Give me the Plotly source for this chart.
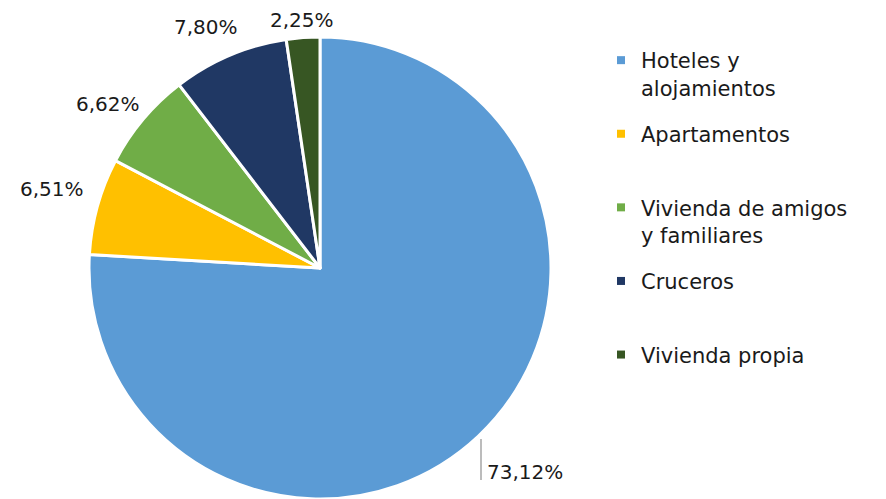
import plotly.graph_objects as go

categories = ["Hoteles y<br>alojamientos", "Apartamentos", "Vivienda de amigos<br>y familiares",
              "Cruceros", "Vivienda propia"]
values = [73.12, 6.51, 6.62, 7.80, 2.25]
labels_text = ["73,12%", "6,51%", "6,62%", "7,80%", "2,25%"]
colors = ["#5B9BD5", "#FFC000", "#70AD47", "#203864", "#375623"]

FONT = "DejaVu Sans"
W, H = 886, 499

# label anchor positions in pixels (layout only)
label_pos = [(525, 472), (52, 189), (108, 104), (206, 27), (302, 20)]

fig = go.Figure()
fig.add_trace(go.Pie(
    labels=categories,
    values=values,
    textinfo="none",
    sort=False,
    direction="clockwise",
    rotation=0,
    showlegend=False,
    marker=dict(colors=colors, line=dict(color="white", width=3)),
    domain=dict(x=[89/W, 551/W], y=[0.0, (H-37)/H]),
    hoverinfo="label+percent",
))

# legend entries (one per category); every entry occupies two text lines
for i, (cat, col) in enumerate(zip(categories, colors)):
    name = cat if ("<br>" in cat or i == len(categories) - 1) else cat + "<br> "
    fig.add_trace(go.Scatter(
        x=[None], y=[None], mode="markers", name=name,
        marker=dict(symbol="square", size=8, color=col),
        legendgroup=f"g{i}", showlegend=True, hoverinfo="skip",
    ))

for (px, py), t in zip(label_pos, labels_text):
    fig.add_annotation(x=px/W, y=1-py/H, xref="paper", yref="paper",
                       text=t, showarrow=False, xanchor="center", yanchor="middle",
                       font=dict(family=FONT, size=20, color="#1a1a1a"))

fig.add_shape(type="line", xref="paper", yref="paper",
              x0=481/W, x1=481/W, y0=1-439/H, y1=1-480/H,
              line=dict(color="#A6A6A6", width=1.5))

fig.update_layout(
    width=W, height=H,
    margin=dict(l=0, r=0, t=0, b=0),
    paper_bgcolor="white",
    plot_bgcolor="white",
    xaxis=dict(visible=False),
    yaxis=dict(visible=False),
    showlegend=True,
    legend=dict(
        x=601/W, xanchor="left",
        y=1 - 40/H, yanchor="top",
        font=dict(family=FONT, size=21, color="#1a1a1a"),
        valign="top",
        tracegroupgap=16,
        bgcolor="rgba(0,0,0,0)",
    ),
)

fig.write_html("out.html")
